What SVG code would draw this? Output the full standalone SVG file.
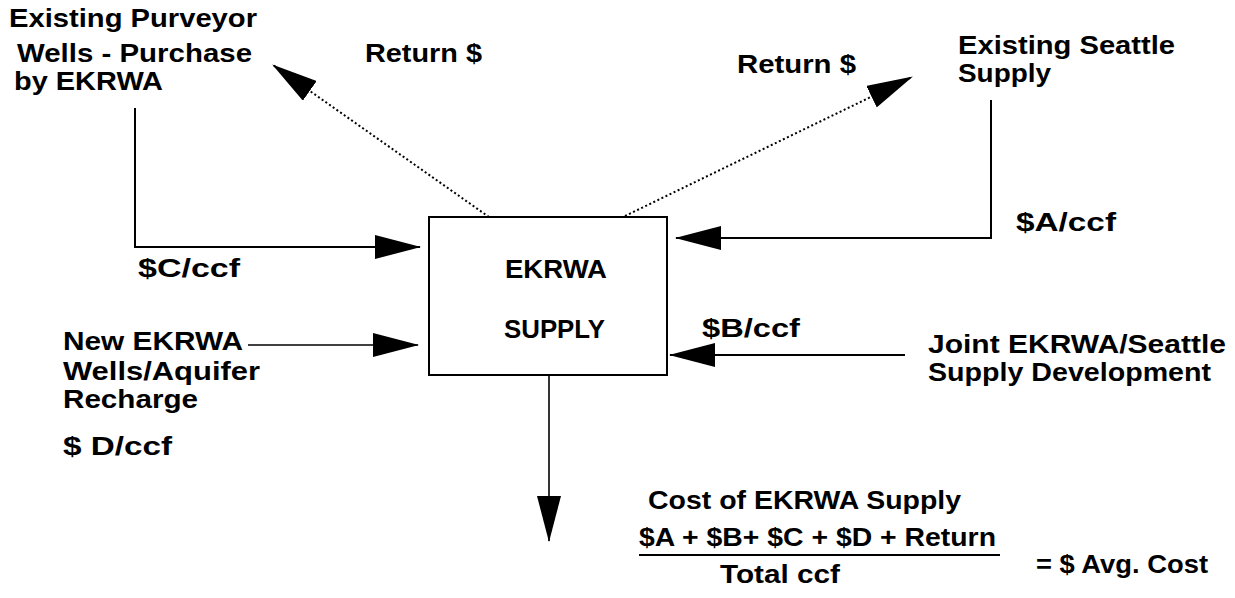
<svg xmlns="http://www.w3.org/2000/svg" width="1235" height="598" viewBox="0 0 1235 598">
<style>
.t{font-family:"Liberation Sans",Arial,Helvetica,sans-serif;font-weight:bold;font-size:25px;fill:#000}
.ln{fill:none;stroke:#000;stroke-width:2}
.thin{fill:none;stroke:#000;stroke-width:1.6}
.dot{fill:none;stroke:#000;stroke-width:2;stroke-dasharray:2 2.5}
.box{fill:#fff;stroke:#000;stroke-width:2}
</style>
<defs>
<marker id="ah" markerUnits="userSpaceOnUse" markerWidth="46" markerHeight="24" viewBox="0 0 46 24" refX="45" refY="12" orient="auto">
<path d="M0,0 L46,12 L0,24 z" fill="#000"/>
</marker>
</defs>
<rect width="1235" height="598" fill="#fff"/>
<g id="connectors">
<polyline class="ln" points="135,108 135,247 420,247" marker-end="url(#ah)"/>
<polyline class="ln" points="991,100 991,238 676,238" marker-end="url(#ah)"/>
<line class="ln" x1="905" y1="355" x2="670" y2="355" marker-end="url(#ah)"/>
<line class="thin" x1="248" y1="345" x2="418" y2="345" marker-end="url(#ah)"/>
<line class="thin" x1="549" y1="375" x2="549" y2="541" marker-end="url(#ah)"/>
<line class="dot" x1="489" y1="217" x2="273" y2="65" marker-end="url(#ah)"/>
<line class="dot" x1="625" y1="216" x2="912" y2="77" marker-end="url(#ah)"/>
</g>
<g id="supply-box">
<rect class="box" x="429" y="217" width="238" height="158"/>
<text class="t" x="505" y="278" textLength="102" lengthAdjust="spacingAndGlyphs">EKRWA</text>
<text class="t" x="504" y="338" textLength="101" lengthAdjust="spacingAndGlyphs">SUPPLY</text>
</g>
<g id="purveyor-wells">
<text class="t" x="9" y="27" textLength="248" lengthAdjust="spacingAndGlyphs">Existing Purveyor</text>
<text class="t" x="17" y="62" textLength="235" lengthAdjust="spacingAndGlyphs">Wells - Purchase</text>
<text class="t" x="14" y="90" textLength="149" lengthAdjust="spacingAndGlyphs">by EKRWA</text>
</g>
<g id="seattle-supply">
<text class="t" x="958" y="54" textLength="217" lengthAdjust="spacingAndGlyphs">Existing Seattle</text>
<text class="t" x="958" y="82" textLength="93" lengthAdjust="spacingAndGlyphs">Supply</text>
</g>
<g id="new-wells">
<text class="t" x="63" y="350" textLength="180" lengthAdjust="spacingAndGlyphs">New EKRWA</text>
<text class="t" x="63" y="380" textLength="197" lengthAdjust="spacingAndGlyphs">Wells/Aquifer</text>
<text class="t" x="63" y="408" textLength="135" lengthAdjust="spacingAndGlyphs">Recharge</text>
<text class="t" x="63" y="455" textLength="109" lengthAdjust="spacingAndGlyphs">$ D/ccf</text>
</g>
<g id="joint-supply">
<text class="t" x="928" y="353" textLength="298" lengthAdjust="spacingAndGlyphs">Joint EKRWA/Seattle</text>
<text class="t" x="928" y="381" textLength="283" lengthAdjust="spacingAndGlyphs">Supply Development</text>
</g>
<g id="edge-labels">
<text class="t" x="365" y="62" textLength="117" lengthAdjust="spacingAndGlyphs">Return $</text>
<text class="t" x="737" y="73" textLength="119" lengthAdjust="spacingAndGlyphs">Return $</text>
<text class="t" x="138" y="277" textLength="102" lengthAdjust="spacingAndGlyphs">$C/ccf</text>
<text class="t" x="1016" y="231" textLength="100" lengthAdjust="spacingAndGlyphs">$A/ccf</text>
<text class="t" x="702" y="337" textLength="98" lengthAdjust="spacingAndGlyphs">$B/ccf</text>
</g>
<g id="cost-formula">
<text class="t" x="648" y="509" textLength="313" lengthAdjust="spacingAndGlyphs">Cost of EKRWA Supply</text>
<text class="t" x="639" y="546" textLength="357" lengthAdjust="spacingAndGlyphs">$A + $B+ $C + $D + Return</text>
<line class="ln" x1="639" y1="555" x2="1000" y2="555"/>
<text class="t" x="720" y="583" textLength="120" lengthAdjust="spacingAndGlyphs">Total ccf</text>
<text class="t" x="1036" y="573" textLength="172" lengthAdjust="spacingAndGlyphs">= $ Avg. Cost</text>
</g>
</svg>
